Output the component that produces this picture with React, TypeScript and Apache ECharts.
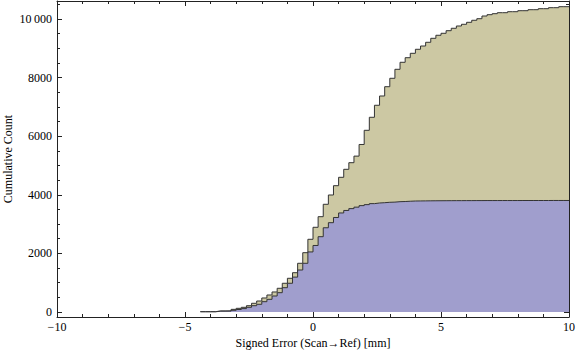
import React, { useEffect, useRef } from "react";
import * as echarts from "echarts";

// Cumulative histogram bins (left edges start at BIN_START, width BIN_WIDTH)
const BIN_START = -4.4;
const BIN_WIDTH = 0.2;

// Total cumulative count (top, tan outline)
const totalCumulative = [
  12, 12, 12, 35, 35, 38, 90, 125, 160, 215, 297, 375, 478, 580, 683, 809,
  980, 1150, 1341, 1662, 2024, 2481, 2891, 3253, 3676, 3993, 4311, 4597, 4870,
  5096, 5320, 5717, 6201, 6645, 7055, 7372, 7689, 7976, 8283, 8522, 8679, 8829,
  8966, 9078, 9205, 9341, 9444, 9512, 9601, 9683, 9761, 9819, 9887, 9956,
  10010, 10102, 10147, 10181, 10215, 10215, 10249, 10249, 10283, 10283, 10317,
  10317, 10352, 10352, 10386, 10386, 10420, 10420,
];

// Blue subset cumulative count
const blueCumulative = [
  8, 8, 8, 28, 28, 30, 58, 85, 115, 160, 215, 263, 352, 433, 546, 659, 829,
  980, 1190, 1433, 1662, 2050, 2270, 2570, 2875, 3048, 3225, 3380, 3465, 3528,
  3578, 3630, 3664, 3698, 3720, 3730, 3744, 3750, 3765, 3770, 3780, 3788, 3790,
  3792, 3794, 3796, 3797, 3798, 3799, 3800, 3800, 3801, 3801, 3802, 3802, 3803,
  3803, 3803, 3804, 3804, 3804, 3804, 3805, 3805, 3805, 3805, 3805, 3805, 3806,
  3806, 3806, 3806,
];

const yMajorTicks = [0, 2000, 4000, 6000, 8000, 10000];
const yMinorTicks = [
  500, 1000, 1500, 2500, 3000, 3500, 4500, 5000, 5500, 6500, 7000, 7500, 8500,
  9000, 9500, 10500,
];

const X_TITLE = "Signed Error (Scan\u2192Ref) [mm]";
const Y_TITLE = "Cumulative Count";

const FONT = '"Liberation Serif", "Times New Roman", "DejaVu Serif", serif';
const FRAME = "#222";
const TAN = "#CCC8A3";
const BLUE = "#A09ECD";
const OUTLINE = "#333333";

function toSteps(values: number[]): number[][] {
  const pts = values.map((v, i) => [
    Math.round((BIN_START + i * BIN_WIDTH) * 10) / 10,
    v,
  ]);
  pts.push([
    Math.round((BIN_START + values.length * BIN_WIDTH) * 10) / 10,
    values[values.length - 1],
  ]);
  return pts;
}

function fmtY(v: number): string {
  const s = String(Math.round(v));
  if (s.length > 4) return s.slice(0, s.length - 3) + "\u2009" + s.slice(-3);
  return s;
}

export default function App() {
  const ref = useRef<HTMLDivElement>(null);
  useEffect(() => {
    if (!ref.current) return;
    const chart = echarts.init(ref.current, undefined, { renderer: "svg" });
    const yMin = -171;
    const yMax = 10614;
    const baseY = {
      type: "value" as const,
      min: yMin,
      max: yMax,
      splitLine: { show: false },
    };
    chart.setOption({
      animation: false,
      grid: {
        left: 57,
        right: 7,
        top: 1,
        bottom: 40,
        containLabel: false,
        outerBoundsMode: "none",
      },
      xAxis: [
        {
          type: "value",
          min: -10,
          max: 10,
          interval: 5,
          position: "bottom",
          axisLine: { show: true, onZero: false, lineStyle: { color: FRAME, width: 1 } },
          axisTick: { show: true, inside: true, length: 5, lineStyle: { color: FRAME } },
          minorTick: { show: true, splitNumber: 5, length: 3, lineStyle: { color: FRAME } },
          splitLine: { show: false },
          axisLabel: {
            show: true,
            margin: 4,
            fontFamily: FONT,
            fontSize: 12,
            color: "#000",
            formatter: (v: number) => (v < 0 ? "\u2212" + Math.abs(v) : String(v)),
          },
          name: X_TITLE,
          nameLocation: "middle",
          nameGap: 20,
          nameMoveOverlap: false,
          nameTextStyle: { fontFamily: FONT, fontSize: 12, color: "#000" },
        },
        {
          type: "value",
          min: -10,
          max: 10,
          interval: 5,
          position: "top",
          axisLine: { show: true, onZero: false, lineStyle: { color: FRAME, width: 1 } },
          axisTick: { show: true, inside: true, length: 5, lineStyle: { color: FRAME } },
          minorTick: { show: true, splitNumber: 5, length: 3, lineStyle: { color: FRAME } },
          splitLine: { show: false },
          axisLabel: { show: false },
        },
      ],
      yAxis: [
        {
          ...baseY,
          position: "left",
          axisLine: { show: true, onZero: false, lineStyle: { color: FRAME, width: 1 } },
          axisTick: {
            show: true,
            inside: true,
            length: 5,
            customValues: yMajorTicks,
            lineStyle: { color: FRAME },
          },
          axisLabel: {
            show: true,
            margin: 5,
            customValues: yMajorTicks,
            fontFamily: FONT,
            fontSize: 12,
            color: "#000",
            formatter: (v: number) => fmtY(v),
          },
          name: Y_TITLE,
          nameLocation: "middle",
          nameGap: 43,
          nameRotate: 90,
          nameMoveOverlap: false,
          nameTextStyle: { fontFamily: FONT, fontSize: 12, color: "#000" },
        },
        {
          ...baseY,
          position: "left",
          axisLine: { show: false, onZero: false },
          axisTick: {
            show: true,
            inside: true,
            length: 3,
            customValues: yMinorTicks,
            lineStyle: { color: FRAME },
          },
          axisLabel: { show: false },
        },
        {
          ...baseY,
          position: "right",
          axisLine: { show: true, onZero: false, lineStyle: { color: FRAME, width: 1 } },
          axisTick: {
            show: true,
            inside: true,
            length: 5,
            customValues: yMajorTicks,
            lineStyle: { color: FRAME },
          },
          axisLabel: { show: false },
        },
        {
          ...baseY,
          position: "right",
          axisLine: { show: false, onZero: false },
          axisTick: {
            show: true,
            inside: true,
            length: 3,
            customValues: yMinorTicks,
            lineStyle: { color: FRAME },
          },
          axisLabel: { show: false },
        },
      ],
      series: [
        {
          name: "Total",
          type: "line",
          xAxisIndex: 0,
          yAxisIndex: 0,
          step: "end",
          symbol: "none",
          data: toSteps(totalCumulative),
          lineStyle: { color: OUTLINE, width: 1 },
          areaStyle: { color: TAN, opacity: 1 },
          z: 2,
        },
        {
          name: "Blue",
          type: "line",
          xAxisIndex: 0,
          yAxisIndex: 0,
          step: "end",
          symbol: "none",
          data: toSteps(blueCumulative),
          lineStyle: { color: OUTLINE, width: 1 },
          areaStyle: { color: BLUE, opacity: 1 },
          z: 3,
        },
      ],
    });
    return () => chart.dispose();
  }, []);
  return (
    <div
      ref={ref}
      style={{ position: "absolute", left: 0, top: 0, width: 576, height: 357 }}
    />
  );
}
